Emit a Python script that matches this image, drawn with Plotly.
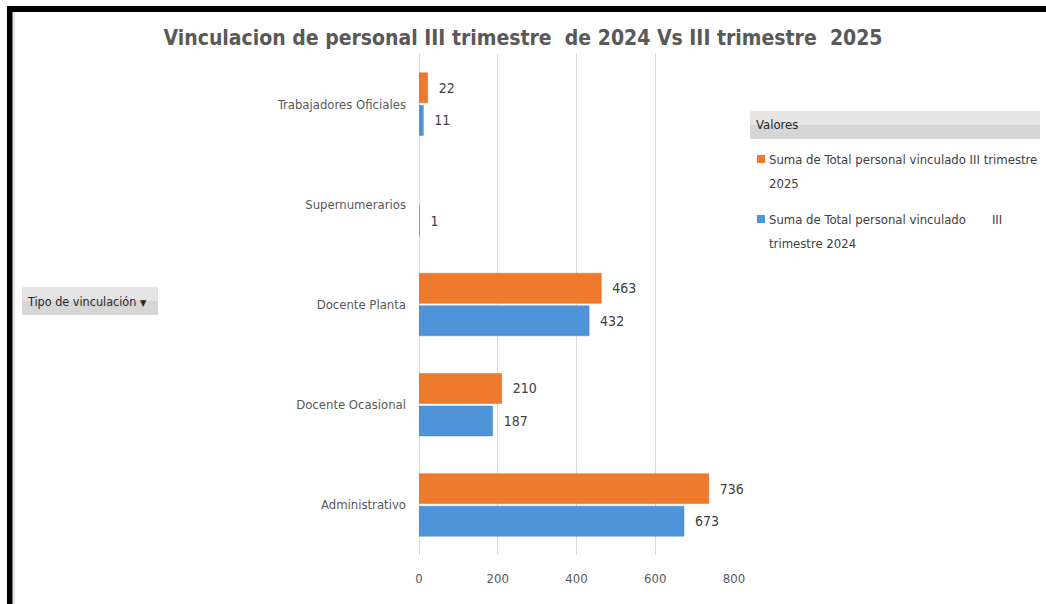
import plotly.graph_objects as go

categories = ["Administrativo", "Docente Ocasional", "Docente Planta", "Supernumerarios", "Trabajadores Oficiales"]
values_2024 = [673, 187, 432, 1, 11]
values_2025 = [736, 210, 463, None, 22]
x_ticks = [0, 200, 400, 600, 800]
series_2025_lines = ["Suma de Total personal vinculado III trimestre", "2025"]
series_2024_lines = ["Suma de Total personal vinculado       III", "trimestre 2024"]
title_text = "Vinculacion de personal III trimestre  de 2024 Vs III trimestre  2025"
filter_label = "Tipo de vinculación <span style='font-size:9px'>▼</span>"
legend_header = "Valores"

COLOR_2025 = "#EE7A2E"
COLOR_2024 = "#4F93D8"

W, H = 1046, 604
L, R, T, B = 419, 734, 54, 555
FONT = "DejaVu Sans Condensed, DejaVu Sans, sans-serif"

def px(x):
    return (x - L) / (R - L)

def py(y):
    return (B - y) / (B - T)

fig = go.Figure()
fig.add_trace(go.Bar(
    y=categories, x=values_2024, orientation="h", name=" ".join(series_2024_lines),
    marker=dict(color=COLOR_2024, line=dict(color="#4585C8", width=0.5)),
    text=[("" if v is None else str(v)) for v in values_2024],
    texttemplate="  %{text}",
    textposition="outside", cliponaxis=False,
    textfont=dict(size=14, color="#404040", family=FONT),
))
fig.add_trace(go.Bar(
    y=categories, x=values_2025, orientation="h", name=" ".join(series_2025_lines),
    marker=dict(color=COLOR_2025, line=dict(color="#DD6B20", width=0.5)),
    text=[("" if v is None else str(v)) for v in values_2025],
    texttemplate="  %{text}",
    textposition="outside", cliponaxis=False,
    textfont=dict(size=14, color="#404040", family=FONT),
))

shapes = [
    # black frame (top and left)
    dict(type="rect", xref="paper", yref="paper", x0=px(7), x1=px(W + 5), y0=py(12), y1=py(6),
         fillcolor="black", line=dict(width=0), layer="above"),
    dict(type="rect", xref="paper", yref="paper", x0=px(7), x1=px(12.5), y0=py(H + 5), y1=py(6),
         fillcolor="black", line=dict(width=0), layer="above"),
    dict(type="line", xref="paper", yref="paper", x0=px(14), x1=px(14), y0=py(H + 5), y1=py(12),
         line=dict(color="#E6E6E6", width=2)),
    # filter button
    dict(type="rect", xref="paper", yref="paper", x0=px(22), x1=px(158), y0=py(315), y1=py(287),
         fillcolor="#D6D6D6", line=dict(width=0), layer="below"),
    dict(type="rect", xref="paper", yref="paper", x0=px(22), x1=px(158), y0=py(301), y1=py(287),
         fillcolor="#E4E4E4", line=dict(width=0), layer="below"),
    # legend header
    dict(type="rect", xref="paper", yref="paper", x0=px(750), x1=px(1040), y0=py(139), y1=py(111),
         fillcolor="#D6D6D6", line=dict(width=0), layer="below"),
    dict(type="rect", xref="paper", yref="paper", x0=px(750), x1=px(1040), y0=py(125), y1=py(111),
         fillcolor="#E6E6E6", line=dict(width=0), layer="below"),
    # legend swatches
    dict(type="rect", xref="paper", yref="paper", x0=px(757), x1=px(765), y0=py(163), y1=py(155),
         fillcolor=COLOR_2025, line=dict(width=0)),
    dict(type="rect", xref="paper", yref="paper", x0=px(757), x1=px(765), y0=py(223), y1=py(215),
         fillcolor=COLOR_2024, line=dict(width=0)),
]

annotations = [
    dict(text=filter_label, xref="paper", yref="paper", x=px(25), y=py(301), xanchor="left",
         yanchor="middle", showarrow=False, font=dict(size=12.5, color="#262626", family=FONT)),
    dict(text=legend_header, xref="paper", yref="paper", x=px(754), y=py(125), xanchor="left",
         yanchor="middle", showarrow=False, font=dict(size=13, color="#262626", family=FONT)),
]
legend_lines = [(series_2025_lines[0], 159), (series_2025_lines[1], 183),
                (series_2024_lines[0], 219), (series_2024_lines[1], 243)]
for txt, yy in legend_lines:
    annotations.append(dict(text=txt.replace("  ", "&nbsp; "), xref="paper", yref="paper", x=px(767), y=py(yy),
                            xanchor="left", yanchor="middle", showarrow=False,
                            font=dict(size=13, color="#404040", family=FONT)))

fig.update_layout(
    width=W, height=H,
    margin=dict(l=L, r=W - R, t=T, b=H - B, pad=0, autoexpand=False),
    paper_bgcolor="white", plot_bgcolor="white",
    barmode="group", bargap=0.35, bargroupgap=0.08,
    title=dict(text=title_text, x=0.5, xref="container", xanchor="center", y=1 - 38 / H, yanchor="middle",
               font=dict(size=21, color="#595959", family=FONT, weight="bold")),
    xaxis=dict(range=[0, 800], tickvals=x_ticks, showgrid=True, gridcolor="#D9D9D9", gridwidth=1,
               zeroline=True, zerolinecolor="#D9D9D9", zerolinewidth=1, showline=False,
               ticks="", ticklabelstandoff=14,
               tickfont=dict(size=13, color="#595959", family=FONT)),
    yaxis=dict(categoryorder="array", categoryarray=categories, showgrid=False, zeroline=False,
               showline=False, ticks="", ticklabelstandoff=12,
               tickfont=dict(size=13, color="#595959", family=FONT)),
    showlegend=False,
    shapes=shapes, annotations=annotations,
)

fig.write_html("out.html")
